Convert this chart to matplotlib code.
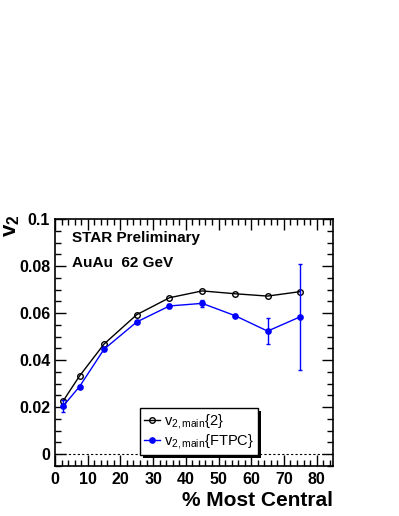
import matplotlib
matplotlib.use('Agg')
import matplotlib.pyplot as plt
from matplotlib.ticker import MultipleLocator
from matplotlib.patches import Rectangle
from matplotlib.lines import Line2D

plt.rcParams['font.family'] = ['Liberation Sans', 'DejaVu Sans']
plt.rcParams['mathtext.fontset'] = 'custom'
plt.rcParams['mathtext.rm'] = 'Liberation Sans'
plt.rcParams['mathtext.it'] = 'Liberation Sans'
plt.rcParams['mathtext.bf'] = 'Liberation Sans:bold'

# --- Data ---
centrality = [2.5, 7.5, 15, 25, 35, 45, 55, 65, 75]
v2_cumulant = [0.0226, 0.0332, 0.0468, 0.0593, 0.0665, 0.0694, 0.0682, 0.0672, 0.0691]
v2_ftpc = [0.0204, 0.0287, 0.0446, 0.0562, 0.0630, 0.0641, 0.0589, 0.0523, 0.0584]
v2_ftpc_err = [0.0025, 0.0008, 0.0006, 0.0006, 0.0007, 0.0014, 0.0008, 0.0055, 0.0225]

# --- Plot ---
fig = plt.figure(figsize=(3.99, 5.16), dpi=100)
ax = fig.add_axes([55/399, 1 - 466/516, (333-55)/399, (466-219)/516])

ax.axhline(0, color='black', ls=(0, (2, 2)), lw=0.8)

ax.plot(centrality, v2_cumulant, color='black', lw=1.0, marker='o', ms=4,
        mfc='none', mec='black', mew=1.0, zorder=3)
ax.errorbar(centrality, v2_ftpc, yerr=v2_ftpc_err, color='blue', lw=1.0,
            marker='o', ms=3.8, mfc='blue', mec='blue', capsize=1.5, elinewidth=1.0,
            zorder=4)

ax.set_xlim(0, 85)
ax.set_ylim(-0.0051, 0.1)

ax.xaxis.set_minor_locator(MultipleLocator(2))
ax.yaxis.set_minor_locator(MultipleLocator(0.005))
ax.set_xticks([0, 10, 20, 30, 40, 50, 60, 70, 80])
ax.set_yticks([0, 0.02, 0.04, 0.06, 0.08, 0.1])
ax.set_yticklabels(['0', '0.02', '0.04', '0.06', '0.08', '0.1'])

ax.tick_params(which='both', direction='in', top=True, right=True,
               labelsize=11.5, width=1.0)
ax.tick_params(which='major', length=8)
ax.tick_params(which='minor', length=4)
ax.tick_params(axis='x', pad=4)
for lbl in ax.get_xticklabels() + ax.get_yticklabels():
    lbl.set_fontweight('bold')
for s in ax.spines.values():
    s.set_linewidth(1.2)

ax.set_xlabel('% Most Central', fontsize=15, fontweight='bold', loc='right', labelpad=3)
fig.text(12/399, 1 - 226/516, r'$\mathbf{v_2}$', rotation=90, fontsize=16,
         ha='center', va='center')

ax.text(0.06, 0.925, 'STAR Preliminary', transform=ax.transAxes, fontsize=11,
        fontweight='bold', va='center')
ax.text(0.06, 0.82, 'AuAu  62 GeV', transform=ax.transAxes, fontsize=11,
        fontweight='bold', va='center')

handles = [
    Line2D([], [], color='black', lw=1.0, marker='o', ms=4, mfc='none', mec='black'),
    Line2D([], [], color='blue', lw=1.0, marker='o', ms=3.8, mfc='blue', mec='blue'),
]
labels = [r'v$_{2,\mathrm{main}}${2}', r'v$_{2,\mathrm{main}}${FTPC}']
leg = ax.legend(handles, labels, loc='upper left',
                bbox_to_anchor=((140-55)/278, (466-408)/247),
                fontsize=10.5, frameon=True, fancybox=False, shadow=False, framealpha=1,
                handlelength=1.1, handletextpad=0.3, borderpad=0.25,
                labelspacing=0.1, borderaxespad=0)
leg.get_frame().set_edgecolor('black')
leg.get_frame().set_linewidth(1.0)
leg.set_zorder(5)

# drop shadow behind the legend box, offset a few pixels
fig.canvas.draw()
bb = leg.get_frame().get_window_extent()
shadow = Rectangle((bb.x0 + 3, bb.y0 - 3), bb.width, bb.height, transform=None,
                   facecolor='black', edgecolor='none', zorder=4.5)
ax.add_patch(shadow)

fig.savefig('out.png', dpi=100)
